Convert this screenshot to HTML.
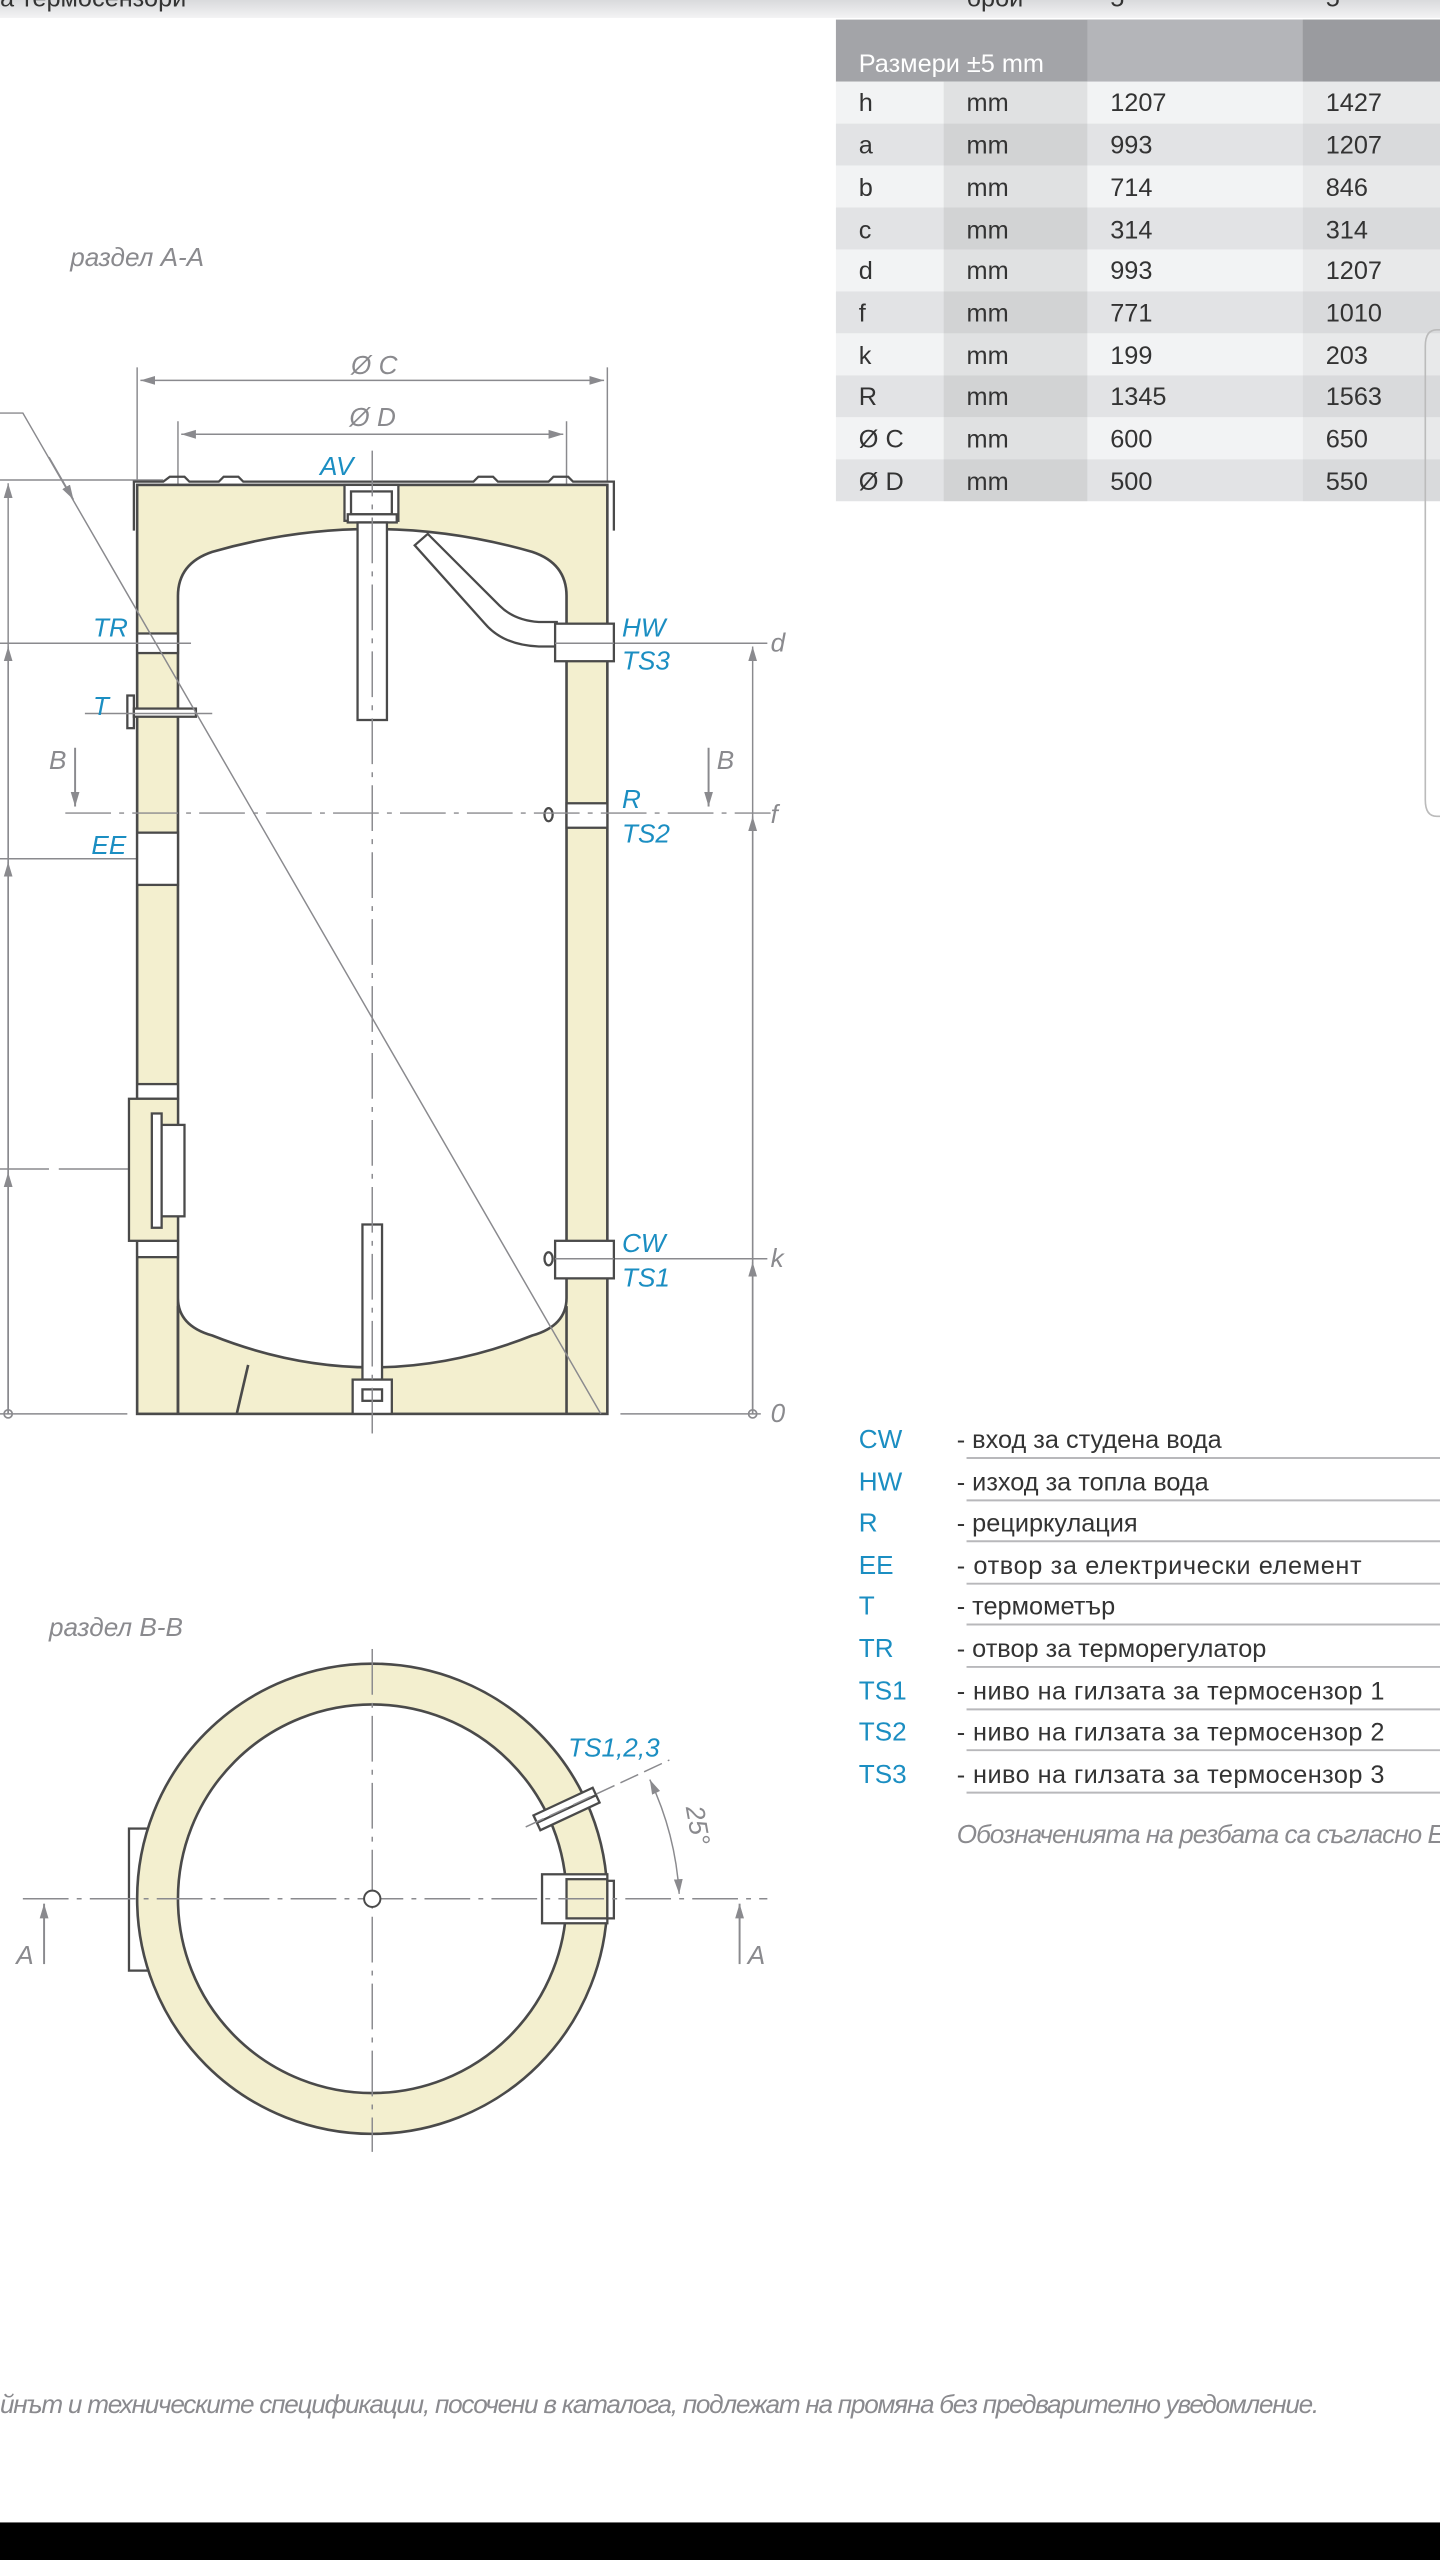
<!DOCTYPE html>
<html><head><meta charset="utf-8">
<style>
html,body{margin:0;padding:0;background:#fff;}
svg{display:block;}
text{font-family:"Liberation Sans","DejaVu Sans",sans-serif;}
.g{fill:#8a8a8e;font-style:italic;font-size:16px;}
.b{fill:#1b8ec2;font-style:italic;font-size:16px;}
.t{fill:#333;font-size:15.5px;}
.lb{fill:#1b8ec2;font-size:16px;}
.ld{fill:#333;font-size:15.5px;}
</style></head><body>
<svg width="1440" height="2560" viewBox="0 0 882 1568" xmlns="http://www.w3.org/2000/svg">
<defs>
<linearGradient id="top" x1="0" y1="0" x2="0" y2="1"><stop offset="0" stop-color="#d9dadc"/><stop offset="1" stop-color="#f3f3f4"/></linearGradient>
<marker id="ar" viewBox="0 0 10 10" refX="10" refY="5" markerWidth="9" markerHeight="9" orient="auto-start-reverse" markerUnits="userSpaceOnUse"><path d="M0,2 L10,5 L0,8z" fill="#8a8a8e"/></marker>
</defs>
<rect x="0" y="0" width="882" height="1568" fill="#fff"/>
<rect x="0" y="0" width="882" height="11" fill="url(#top)"/>
<text x="0" y="4" class="t" fill="#444">а термосензори</text>
<text x="592" y="4" class="t">брой</text><text x="680" y="4" class="t">5</text><text x="812" y="4" class="t">5</text>
<rect x="512" y="12" width="370" height="38" fill="#a3a4a8"/>
<rect x="666" y="12" width="132" height="38" fill="#b4b5b9"/>
<rect x="798" y="12" width="84" height="38" fill="#9a9b9f"/>
<text x="526" y="44" fill="#fff" font-size="15.5">Размери ±5 mm</text>
<g>
<rect x="512" y="50" width="370" height="25.7" fill="#f2f3f4"/>
<rect x="512" y="75.7" width="370" height="25.7" fill="#e2e3e5"/>
<rect x="512" y="101.4" width="370" height="25.7" fill="#f2f3f4"/>
<rect x="512" y="127.1" width="370" height="25.7" fill="#e2e3e5"/>
<rect x="512" y="152.8" width="370" height="25.7" fill="#f2f3f4"/>
<rect x="512" y="178.5" width="370" height="25.7" fill="#e2e3e5"/>
<rect x="512" y="204.2" width="370" height="25.7" fill="#f2f3f4"/>
<rect x="512" y="229.9" width="370" height="25.7" fill="#e2e3e5"/>
<rect x="512" y="255.6" width="370" height="25.7" fill="#f2f3f4"/>
<rect x="512" y="281.3" width="370" height="25.7" fill="#e2e3e5"/>
<rect x="578" y="50" width="88" height="257" fill="#000" opacity="0.07"/>
<rect x="798" y="50" width="84" height="257" fill="#000" opacity="0.04"/>
</g>
<g class="t">
<text x="526" y="68">h</text><text x="592" y="68">mm</text><text x="680" y="68">1207</text><text x="812" y="68">1427</text>
<text x="526" y="94">a</text><text x="592" y="94">mm</text><text x="680" y="94">993</text><text x="812" y="94">1207</text>
<text x="526" y="120">b</text><text x="592" y="120">mm</text><text x="680" y="120">714</text><text x="812" y="120">846</text>
<text x="526" y="146">c</text><text x="592" y="146">mm</text><text x="680" y="146">314</text><text x="812" y="146">314</text>
<text x="526" y="171">d</text><text x="592" y="171">mm</text><text x="680" y="171">993</text><text x="812" y="171">1207</text>
<text x="526" y="197">f</text><text x="592" y="197">mm</text><text x="680" y="197">771</text><text x="812" y="197">1010</text>
<text x="526" y="223">k</text><text x="592" y="223">mm</text><text x="680" y="223">199</text><text x="812" y="223">203</text>
<text x="526" y="248">R</text><text x="592" y="248">mm</text><text x="680" y="248">1345</text><text x="812" y="248">1563</text>
<text x="526" y="274">Ø C</text><text x="592" y="274">mm</text><text x="680" y="274">600</text><text x="812" y="274">650</text>
<text x="526" y="300">Ø D</text><text x="592" y="300">mm</text><text x="680" y="300">500</text><text x="812" y="300">550</text>
</g>
<path d="M882,202 L880,202 Q873,202 873,212 L873,490 Q873,500 880,500 L882,500" fill="none" stroke="#bbb" stroke-width="1"/>

<text x="43" y="163" class="g">раздел А-А</text>

<g stroke="#8a8a8e" stroke-width="0.9" fill="none">
<line x1="84" y1="225" x2="84" y2="295"/><line x1="372" y1="225" x2="372" y2="295"/>
<line x1="86" y1="233" x2="370" y2="233" marker-start="url(#ar)" marker-end="url(#ar)"/>
<line x1="109" y1="258" x2="109" y2="345"/><line x1="347" y1="258" x2="347" y2="345"/>
<line x1="111" y1="266" x2="345" y2="266" marker-start="url(#ar)" marker-end="url(#ar)"/>
<line x1="0" y1="294" x2="100" y2="294"/>
<line x1="0" y1="394" x2="117" y2="394"/>
<line x1="0" y1="526" x2="117" y2="526"/>
<line x1="0" y1="716" x2="117" y2="716" stroke-dasharray="30 6 60 6"/>
<line x1="0" y1="866" x2="78" y2="866"/>
<line x1="5" y1="866" x2="5" y2="296" marker-end="url(#ar)"/>
<line x1="5" y1="866" x2="5" y2="396" marker-end="url(#ar)"/>
<line x1="5" y1="866" x2="5" y2="528" marker-end="url(#ar)"/>
<line x1="5" y1="866" x2="5" y2="718" marker-end="url(#ar)"/>
<line x1="372" y1="394" x2="470" y2="394"/>
<line x1="376" y1="771" x2="470" y2="771"/>
<line x1="380" y1="866" x2="466" y2="866"/>
<line x1="461" y1="866" x2="461" y2="396" marker-end="url(#ar)"/>
<line x1="461" y1="866" x2="461" y2="500" marker-end="url(#ar)"/>
<line x1="461" y1="866" x2="461" y2="773" marker-end="url(#ar)"/>
</g>
<circle cx="5" cy="866" r="2.5" fill="none" stroke="#8a8a8e"/>
<circle cx="461" cy="866" r="2.5" fill="none" stroke="#8a8a8e"/>
<text x="215" y="229" class="g">Ø C</text>
<text x="214" y="261" class="g">Ø D</text>

<g stroke="#4a4a4a" stroke-width="1.6">
<rect x="84" y="297" width="288" height="569" fill="#f3efcf"/>
<path d="M109,866 L109,365 Q109,345 130,338 Q228,310 326,338 Q347,345 347,365 L347,795 Q347,812 326,818 Q228,857 130,818 Q109,812 109,795 Z" fill="#fff"/>
<line x1="109" y1="800" x2="109" y2="866"/><line x1="347" y1="800" x2="347" y2="866"/>
<line x1="152" y1="836" x2="145" y2="866"/>
</g>
<g stroke="#4a4a4a" stroke-width="1.4" fill="none">
<path d="M82,325 L82,295 L100,295 L104,292 L113,292 L116,295 L134,295 L137,292 L146,292 L149,295 L290,295 L293,292 L302,292 L305,295 L336,295 L339,292 L348,292 L351,295 L376,295 L376,325"/>
</g>
<g stroke="#4a4a4a" stroke-width="1.4" fill="#fff">
<rect x="211" y="297" width="33" height="22"/>
<rect x="215" y="301" width="25" height="14"/>
<rect x="213" y="315" width="30" height="5"/>
<rect x="219" y="320" width="18" height="121"/>
<path d="M254,334 L262,327 L306,371 Q315,380 330,381 L341,381 L341,396 L330,396 Q308,395 297,382 Z"/>
<rect x="340" y="382" width="36" height="23"/>
<rect x="84" y="388" width="25" height="12"/>
<rect x="78" y="426" width="4" height="20"/>
<rect x="82" y="434" width="38" height="5"/>
<rect x="84" y="510" width="25" height="32"/>
<rect x="347" y="492" width="25" height="15"/>
<ellipse cx="336" cy="499" rx="2.5" ry="4"/>
<rect x="84" y="664" width="25" height="9"/>
<rect x="84" y="760" width="25" height="10"/>
<rect x="79" y="673" width="30" height="87" fill="#f3efcf"/>
<rect x="98" y="689" width="15" height="56"/>
<rect x="93" y="682" width="6" height="70"/>
<rect x="340" y="760" width="36" height="23"/>
<ellipse cx="336" cy="771" rx="2.5" ry="4"/>
<rect x="222" y="750" width="12" height="95"/>
<rect x="216" y="845" width="24" height="21"/>
<rect x="222" y="851" width="12" height="7"/>
</g>
<g stroke="#8a8a8e" stroke-width="0.9" fill="none">
<polyline points="0,253 14,253 368,866"/>
<line x1="30" y1="280" x2="45" y2="306" marker-end="url(#ar)"/>
</g>
<g stroke="#8a8a8e" stroke-width="0.9" stroke-dasharray="28 5 3 5" fill="none">
<line x1="228" y1="276" x2="228" y2="882"/>
<line x1="40" y1="498" x2="472" y2="498"/>
<line x1="58" y1="394" x2="117" y2="394" stroke-dasharray="none"/>
<line x1="52" y1="437" x2="130" y2="437" stroke-dasharray="none"/>
<line x1="340" y1="394" x2="376" y2="394" stroke-dasharray="none"/>
<line x1="340" y1="771" x2="376" y2="771" stroke-dasharray="none"/>
</g>
<g stroke="#8a8a8e" stroke-width="1.2">
<line x1="46" y1="458" x2="46" y2="494" marker-end="url(#ar)"/>
<line x1="434" y1="458" x2="434" y2="494" marker-end="url(#ar)"/>
</g>
<text x="30" y="471" class="g">B</text><text x="439" y="471" class="g">B</text>
<g class="g"><text x="472" y="399">d</text><text x="472" y="504">f</text><text x="472" y="776">k</text><text x="472" y="871">0</text></g>
<g class="b">
<text x="196" y="291">AV</text>
<text x="57" y="390">TR</text>
<text x="57" y="438">T</text>
<text x="56" y="523">EE</text>
<text x="381" y="390">HW</text><text x="381" y="410">TS3</text>
<text x="381" y="495">R</text><text x="381" y="516">TS2</text>
<text x="381" y="767">CW</text><text x="381" y="788">TS1</text>
</g>

<g>
<g class="lb">
<text x="526" y="887">CW</text><text x="526" y="913">HW</text><text x="526" y="938">R</text>
<text x="526" y="964">EE</text><text x="526" y="989">T</text><text x="526" y="1015">TR</text>
<text x="526" y="1041">TS1</text><text x="526" y="1066">TS2</text><text x="526" y="1092">TS3</text>
</g>
<g class="ld">
<text x="586" y="887">- вход за студена вода</text>
<text x="586" y="913">- изход за топла вода</text>
<text x="586" y="938">- рециркулация</text>
<text x="586" y="964" textLength="248">- отвор за електрически елемент</text>
<text x="586" y="989">- термометър</text>
<text x="586" y="1015">- отвор за терморегулатор</text>
<text x="586" y="1041" textLength="262">- ниво на гилзата за термосензор 1</text>
<text x="586" y="1066" textLength="262">- ниво на гилзата за термосензор 2</text>
<text x="586" y="1092" textLength="262">- ниво на гилзата за термосензор 3</text>
</g>
<g stroke="#b8b8bb" stroke-width="1.2">
<line x1="592" y1="893" x2="882" y2="893"/><line x1="592" y1="919" x2="882" y2="919"/>
<line x1="592" y1="944" x2="882" y2="944"/><line x1="592" y1="970" x2="882" y2="970"/>
<line x1="592" y1="995" x2="882" y2="995"/><line x1="592" y1="1021" x2="882" y2="1021"/>
<line x1="592" y1="1047" x2="882" y2="1047"/><line x1="592" y1="1072" x2="882" y2="1072"/>
<line x1="592" y1="1098" x2="882" y2="1098"/>
</g>
<text x="586" y="1129" class="g" font-size="14" textLength="310">Обозначенията на резбата са съгласно EN</text>
</g>

<text x="30" y="1002" class="g">раздел B-B</text>
<rect x="79" y="1120" width="31" height="87" fill="#fff" stroke="#4a4a4a" stroke-width="1.4"/>
<circle cx="228" cy="1163" r="144" fill="#f3efcf" stroke="#4a4a4a" stroke-width="1.6"/>
<circle cx="228" cy="1163" r="119" fill="#fff" stroke="#4a4a4a" stroke-width="1.6"/>
<g stroke="#4a4a4a" stroke-width="1.4" fill="#fff">
<rect x="332" y="1148" width="40" height="30"/>
<rect x="347" y="1151" width="25" height="24" fill="#f3efcf"/>
<rect x="372" y="1152" width="4" height="23"/>
<g transform="translate(347,1108) rotate(-25)"><rect x="-20" y="-5" width="40" height="10"/><line x1="-20" y1="0" x2="20" y2="0"/></g>
</g>
<g stroke="#8a8a8e" stroke-width="0.9" fill="none">
<line x1="14" y1="1163" x2="470" y2="1163" stroke-dasharray="28 5 3 5"/>
<line x1="228" y1="1010" x2="228" y2="1318" stroke-dasharray="28 5 3 5"/>
<line x1="322" y1="1119" x2="410" y2="1078" stroke-dasharray="12 4"/>
<path d="M398,1090 A190,190 0 0 1 416,1160" marker-start="url(#ar)" marker-end="url(#ar)"/>
</g>
<circle cx="228" cy="1163" r="5" fill="#fff" stroke="#4a4a4a" stroke-width="1.2"/>
<g stroke="#8a8a8e" stroke-width="1.2">
<line x1="27" y1="1203" x2="27" y2="1166" marker-end="url(#ar)"/>
<line x1="453" y1="1203" x2="453" y2="1166" marker-end="url(#ar)"/>
</g>
<text x="10" y="1203" class="g">A</text><text x="458" y="1203" class="g">A</text>
<text x="348" y="1076" class="b">TS1,2,3</text>
<text transform="translate(420,1107) rotate(80)" class="g" font-size="15">25°</text>

<text x="0" y="1478" class="g" font-size="14" textLength="808">йнът и техническите спецификации, посочени в каталога, подлежат на промяна без предварително уведомление.</text>
<rect x="0" y="1545" width="882" height="23" fill="#000"/>
</svg>
</body></html>
